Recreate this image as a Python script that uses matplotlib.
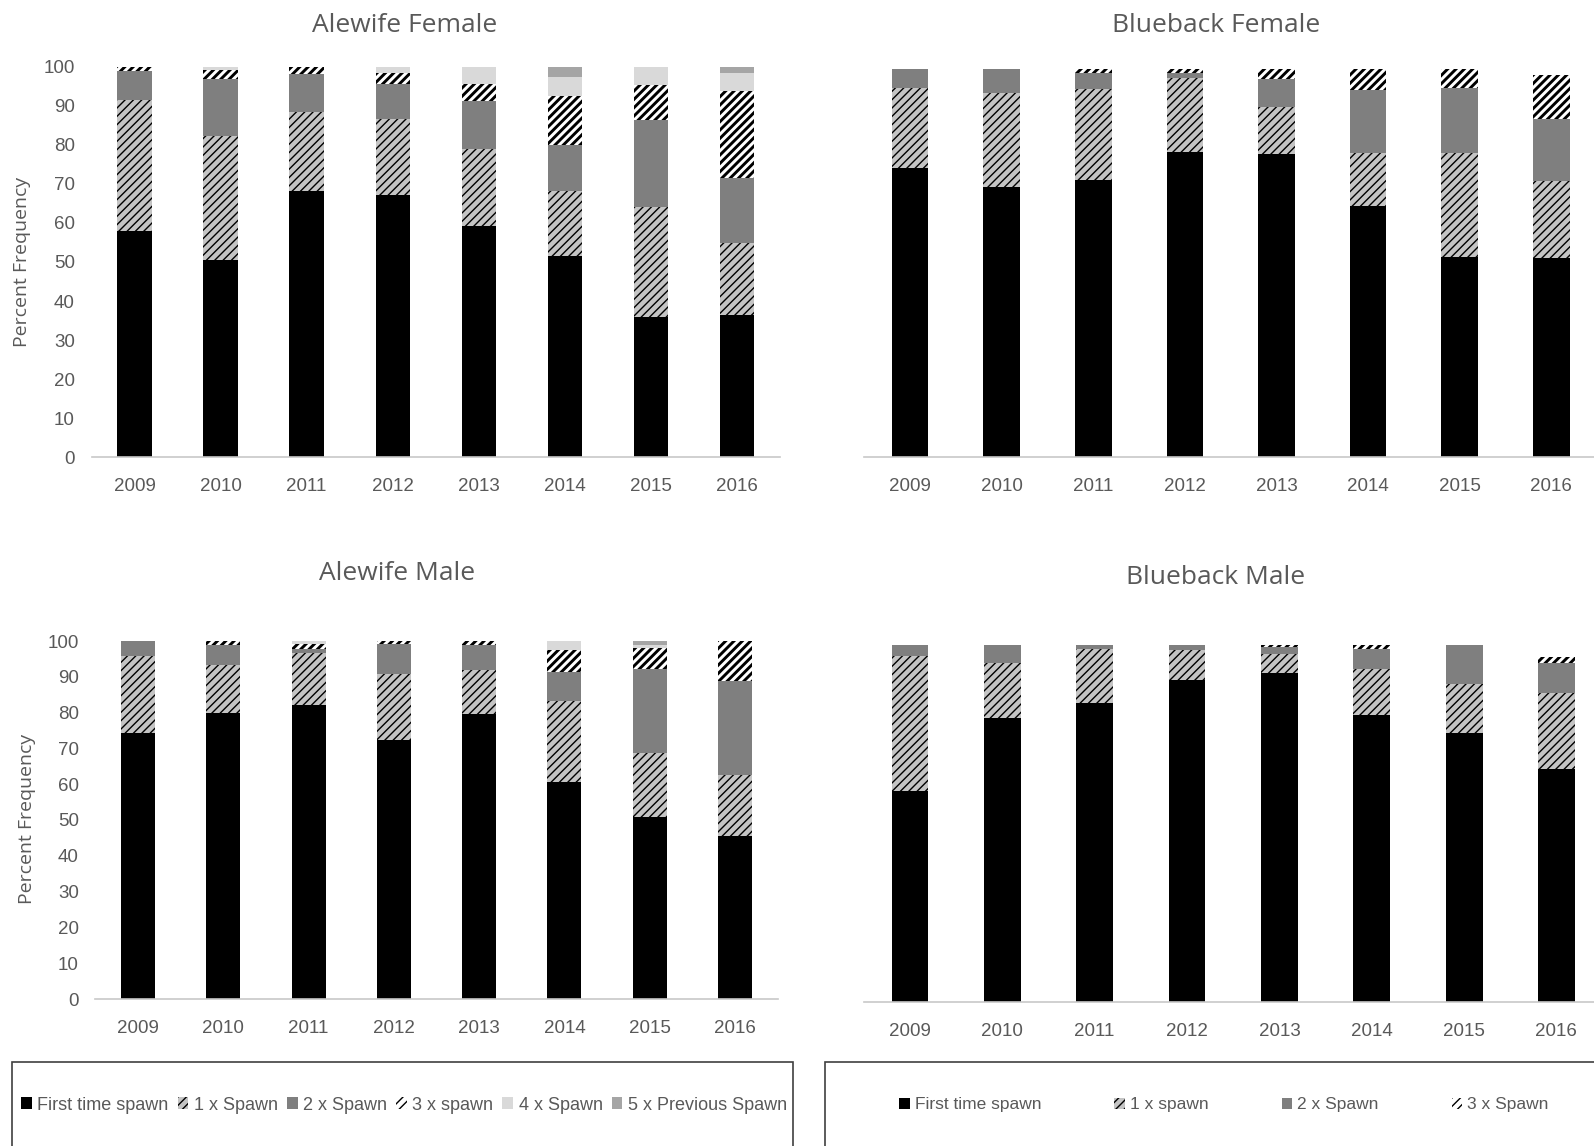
import matplotlib
matplotlib.use('Agg')
import matplotlib as mpl
import matplotlib.pyplot as plt
from matplotlib.patches import Rectangle

years = ['2009', '2010', '2011', '2012', '2013', '2014', '2015', '2016']

# Alewife female
af_first = [57.9, 50.5, 68.3, 67.2, 59.1, 51.6, 35.9, 36.4]
af_1x = [33.7, 31.7, 20.1, 19.3, 19.8, 16.5, 28.2, 18.5]
af_2x = [7.4, 14.6, 9.7, 9.1, 12.4, 11.9, 22.3, 16.6]
af_3x = [1.0, 2.3, 1.9, 2.7, 4.3, 12.5, 9.0, 22.2]
af_4x = [0, 0.9, 0, 1.7, 4.4, 4.9, 4.6, 4.6]
af_5x = [0, 0, 0, 0, 0, 2.6, 0, 1.7]

# Blueback female
bf_first = [74.1, 69.3, 71.0, 78.1, 77.7, 64.4, 51.4, 51.1]
bf_1x = [20.5, 24.0, 23.3, 19.1, 12.0, 13.5, 26.5, 19.6]
bf_2x = [4.8, 6.1, 4.2, 1.3, 7.1, 16.2, 16.6, 16.0]
bf_3x = [0, 0, 0.9, 0.9, 2.6, 5.3, 4.9, 11.2]

# Alewife male
am_first = [74.2, 79.9, 82.0, 72.4, 79.6, 60.6, 50.8, 45.6]
am_1x = [21.7, 13.5, 14.6, 18.4, 12.2, 22.7, 17.9, 16.9]
am_2x = [4.1, 5.4, 1.3, 8.5, 7.0, 8.1, 23.6, 26.4]
am_3x = [0, 1.2, 1.3, 0.7, 1.2, 6.1, 5.7, 11.1]
am_4x = [0, 0, 0.8, 0, 0, 2.5, 0.8, 0]
am_5x = [0, 0, 0, 0, 0, 0, 1.2, 0]

# Blueback male
bm_first = [58.9, 79.3, 83.4, 89.8, 91.9, 80.0, 75.0, 64.9]
bm_1x = [37.7, 15.2, 15.1, 8.4, 5.3, 12.8, 13.8, 21.4]
bm_2x = [3.0, 5.1, 1.1, 1.4, 2.0, 5.6, 10.8, 8.4]
bm_3x = [0, 0, 0, 0, 0.4, 1.2, 0, 1.5]

alewife_labels = ['First time spawn', '1 x Spawn', '2 x Spawn', '3 x spawn',
                  '4 x Spawn', '5 x Previous Spawn']
blueback_labels = ['First time spawn', '1 x spawn', '2 x Spawn', '3 x Spawn']

# face colour, hatch, hatch linewidth for each spawning class
styles = [('black', None, 1.0),
          ('#c4c4c4', '////', 1.0),
          ('#7f7f7f', None, 1.0),
          ('white', '////', 2.1),
          ('#d9d9d9', None, 1.0),
          ('#a5a5a5', None, 1.0)]

TEXT = '#595959'
FONT = 'Liberation Sans'
W, H = 1594, 1146


def stacked_panel(fig, rect, series, labels, show_y):
    ax = fig.add_axes(rect)
    x = list(range(len(years)))
    bottom = [0.0] * len(years)
    for vals, lab, (fc, hatch, hlw) in zip(series, labels, styles):
        with mpl.rc_context({'hatch.linewidth': hlw}):
            bars = ax.bar(x, vals, 0.4, bottom=bottom, color=fc, hatch=hatch,
                          edgecolor='black', linewidth=0, label=lab)
        for b in bars:
            if hasattr(b, 'set_hatch_linewidth'):
                b.set_hatch_linewidth(hlw)
        bottom = [b + v for b, v in zip(bottom, vals)]
    ax.set_xlim(-0.5, 7.5)
    ax.set_ylim(0, 100)
    for s in ['top', 'right', 'left']:
        ax.spines[s].set_visible(False)
    ax.spines['bottom'].set_color('#c8c8c8')
    ax.spines['bottom'].set_linewidth(1.2)
    ax.set_xticks(x)
    ax.set_xticklabels(years, family=FONT, fontsize=13.5, color=TEXT)
    ax.tick_params(axis='x', length=0, pad=15)
    if show_y:
        ax.set_yticks(range(0, 101, 10))
        ax.set_yticklabels([str(v) for v in range(0, 101, 10)], family=FONT,
                           fontsize=13.5, color=TEXT)
        ax.tick_params(axis='y', length=0, pad=12)
    else:
        ax.set_yticks([])
    return ax


fig = plt.figure(figsize=(W / 100, H / 100), dpi=100)

ax_af = stacked_panel(fig, [91.5 / W, 1 - 457.3 / H, 688.5 / W, 390.6 / H],
                      [af_first, af_1x, af_2x, af_3x, af_4x, af_5x], alewife_labels, True)
ax_bf = stacked_panel(fig, [864.2 / W, 1 - 457.3 / H, 733.0 / W, 390.6 / H],
                      [bf_first, bf_1x, bf_2x, bf_3x], blueback_labels, False)
ax_am = stacked_panel(fig, [95.4 / W, 1 - 999.0 / H, 682.2 / W, 358.0 / H],
                      [am_first, am_1x, am_2x, am_3x, am_4x, am_5x], alewife_labels, True)
ax_bm = stacked_panel(fig, [863.8 / W, 1 - 1001.7 / H, 738.8 / W, 358.0 / H],
                      [bm_first, bm_1x, bm_2x, bm_3x], blueback_labels, False)

title_kw = dict(fontsize=19, color=TEXT, family='Open Sans', ha='center', va='center')
fig.text(405 / W, 1 - 26 / H, 'Alewife Female', **title_kw)
fig.text(1216 / W, 1 - 26 / H, 'Blueback Female', **title_kw)
fig.text(397 / W, 1 - 574 / H, 'Alewife Male', **title_kw)
fig.text(1216 / W, 1 - 577 / H, 'Blueback Male', **title_kw)

ylab_kw = dict(fontsize=14, color=TEXT, family='Open Sans', rotation=90,
               ha='center', va='center')
fig.text(22 / W, 1 - 262 / H, 'Percent Frequency', **ylab_kw)
fig.text(27 / W, 1 - 819 / H, 'Percent Frequency', **ylab_kw)

# legend boxes
fig.patches.append(Rectangle((12 / W, -0.02), (793 - 12) / W, (1146 - 1062) / H + 0.02,
                             transform=fig.transFigure, fill=False,
                             edgecolor='#404040', linewidth=1.2))
fig.patches.append(Rectangle((825 / W, -0.02), (1620 - 825) / W, (1146 - 1062) / H + 0.02,
                             transform=fig.transFigure, fill=False,
                             edgecolor='#404040', linewidth=1.2))

h, l = ax_af.get_legend_handles_labels()
leg = fig.legend(h, l, loc='center', bbox_to_anchor=(404 / W, 1 - 1105 / H), ncol=6,
                 frameon=False, handlelength=0.6, handleheight=0.6, handletextpad=0.3,
                 columnspacing=0.5, prop={'family': FONT, 'size': 13})
for t in leg.get_texts():
    t.set_color(TEXT)

h, l = ax_bf.get_legend_handles_labels()
leg = fig.legend(h, l, loc='center', bbox_to_anchor=(1224 / W, 1 - 1105 / H), ncol=4,
                 frameon=False, handlelength=0.6, handleheight=0.6, handletextpad=0.3,
                 columnspacing=4.2, prop={'family': FONT, 'size': 12.5})
for t in leg.get_texts():
    t.set_color(TEXT)

fig.savefig('out.png', dpi=100)
